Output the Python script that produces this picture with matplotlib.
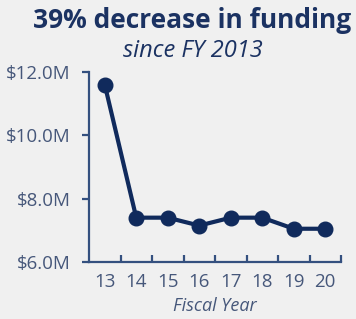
import matplotlib
matplotlib.use("Agg")
import matplotlib.pyplot as plt
import numpy as np

years = ["13", "14", "15", "16", "17", "18", "19", "20"]
funding_m = [11.6, 7.4, 7.4, 7.15, 7.4, 7.4, 7.05, 7.05]
y_ticks = [6.0, 8.0, 10.0, 12.0]
y_labels = ["$6.0M", "$8.0M", "$10.0M", "$12.0M"]

navy = "#102a5c"
axis_col = "#34507f"
text_col = "#46577a"
bg = "#f0f0f0"

W, H = 356, 319
fig = plt.figure(figsize=(W / 100, H / 100), dpi=100, facecolor=bg)
ax = fig.add_axes([89 / W, 57 / H, (341 - 89) / W, (262 - 72) / H], facecolor=bg)

x = np.arange(len(years))
ax.plot(x, funding_m, color=navy, lw=3, marker="o", ms=10.5, clip_on=False, zorder=3)

ax.set_xlim(-0.5, len(years) - 0.5)
ax.set_ylim(6, 12)
for s in ["top", "right"]:
    ax.spines[s].set_visible(False)
for s in ["left", "bottom"]:
    ax.spines[s].set_color(axis_col)
    ax.spines[s].set_linewidth(1.6)

ax.set_yticks(y_ticks)
ax.set_yticklabels(y_labels, fontsize=13.5, color=text_col, family="Open Sans")
ax.tick_params(axis="y", direction="out", length=5, width=1.6, color=axis_col, pad=8)

ax.set_xticks(x)
ax.set_xticklabels(years, fontsize=13.5, color=text_col, family="Open Sans")
ax.set_xticks(np.arange(len(years)) + 0.5, minor=True)
ax.tick_params(axis="x", which="major", length=0, pad=8)
ax.tick_params(axis="x", which="minor", direction="in", length=5, width=1.6, color=axis_col)

ax.set_xlabel("Fiscal Year", fontsize=13, style="italic", color=text_col, family="Open Sans", labelpad=4)

fig.text(192.5 / W, 1 - 21 / H, "39% decrease in funding", ha="center", va="center",
         fontsize=19, fontweight="bold", color="#1b3262", family="Open Sans")
fig.text(192.5 / W, 1 - 51 / H, "since FY 2013", ha="center", va="center",
         fontsize=17, style="italic", color="#1b3262", family="Open Sans")

fig.savefig("out.png", dpi=100, facecolor=bg)
